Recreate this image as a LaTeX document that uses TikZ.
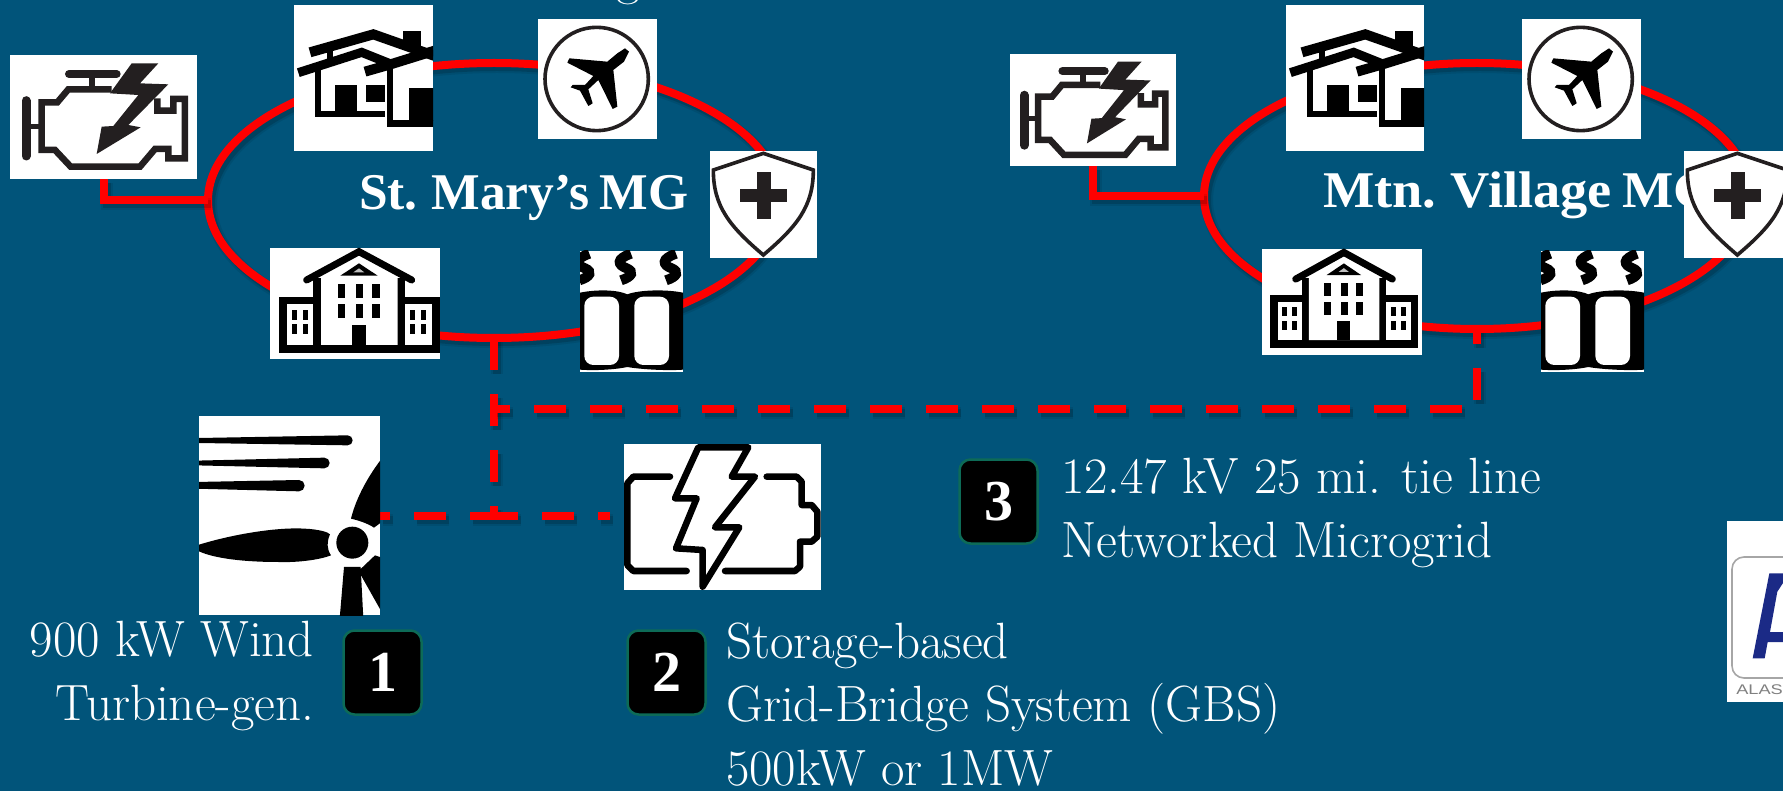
\documentclass[tikz,border=0pt]{standalone}
\usepackage{fontspec}
\usetikzlibrary{shapes.geometric}
\newfontfamily\boldserif[WordSpace=.75]{Liberation Serif}
\newfontfamily\logofont{Liberation Sans}
\definecolor{bg}{HTML}{01547A}
\definecolor{ink}{HTML}{231F20}
\definecolor{badgeedge}{HTML}{0D6B57}
\definecolor{logoblue}{HTML}{1B2A86}
\tikzset{
  softshadow/.style={
    preaction={draw=black,draw opacity=.08,line width=12pt,transform canvas={shift={(3pt,-4pt)}}},
    preaction={draw=black,draw opacity=.15,line width=8pt,transform canvas={shift={(3pt,-4pt)}}}},
  dashshadow/.style={
    preaction={draw=black,draw opacity=.08,line width=12pt,dash pattern=on 32pt off 24pt,dash phase=#1,transform canvas={shift={(3pt,-4pt)}}},
    preaction={draw=black,draw opacity=.15,line width=8pt,dash pattern=on 32pt off 24pt,dash phase=#1,transform canvas={shift={(3pt,-4pt)}}}},
  ring/.style={ellipse,draw=red,line width=8pt,inner sep=0pt,outer sep=0pt,softshadow},
  redline/.style={draw=red,line width=8pt,softshadow},
  tiedash/.style={draw=red,line width=8pt,dashshadow=#1,dash pattern=on 32pt off 24pt,dash phase=#1},
  iconbox/.style={fill=white,draw=none,inner sep=0pt,outer sep=0pt,rectangle},
  badge/.style={rectangle,fill=black,draw=badgeedge,line width=2.5pt,rounded corners=11pt,
    minimum width=78pt,minimum height=84pt,inner sep=0pt,outer sep=0pt,text=white,
    font=\boldserif\bfseries\fontsize{58}{58}\selectfont},
  lbl/.style={text=white,inner sep=0pt,outer sep=0pt,font=\fontsize{51}{63.5}\selectfont},
  title/.style={text=white,inner sep=0pt,outer sep=0pt,font=\boldserif\bfseries\fontsize{51.5}{51.5}\selectfont},
}
% ---- icons: coordinates in zoomed (3x) units
\newcommand\placeicon[4]{%
  \begin{scope}
    \clip (#1.south west) rectangle (#1.north east);
    \begin{scope}[shift={(#1.north west)},xscale=#2/3,yscale=#3/3]#4\end{scope}
  \end{scope}}
\newcommand\engineicon{\begin{scope}[shift={(-30,-15)},ink,line cap=butt,line join=miter]
  \draw[line width=8pt,line cap=round] (207,72)--(350,72);
  \draw[line width=6pt] (275,72)--(275,118);
  \draw[line width=6.5pt] (335,118)--(205,118)--(172,157)--(125,157)--(125,300)--(165,300)--(212,350)--(420,350)--(465,297)--(505,297)--(505,325)--(555,325)--(555,147)--(520,147)--(520,182)--(472,182)--(472,145);
  \draw[line width=9pt,line cap=round] (78,152)--(78,318);
  \draw[line width=5pt] (78,230)--(125,230);
  \fill (395,40)--(475,40)--(420,100)--(505,103)--(385,225)--(422,232)--(290,312)--(305,230)--(340,228)--(415,135)--(330,130)--cycle;
\end{scope}}
\newcommand\houseicon{\begin{scope}[shift={(-12,-15)},black,line cap=butt,line join=miter]
  \fill (340,92) rectangle (392,145);
  \draw[line width=10pt] (60,157)--(250,103)--(440,170);
  \draw[line width=10pt] (225,215)--(305,192)--(440,150);
  \draw[line width=9pt] (25,218)--(215,157)--(310,195);
  \draw[line width=6pt] (120,150)--(120,190);
  \draw[line width=6pt] (85,210)--(85,342)--(285,342);
  \draw[line width=6.5pt] (300,190)--(300,370)--(440,370);
  \fill (135,255) rectangle (200,342);
  \fill (228,255) rectangle (285,306);
  \fill (358,265) rectangle (440,362);
\end{scope}}
\newcommand\planeicon{\begin{scope}[shift={(-24,-57)},black]
  \draw[line width=3.6pt,ink] (200,237) ellipse [x radius=155,y radius=155];
  \fill (285,145)--(297,155)--(282,185)--(250,210)--(262,320)--(248,327)--(205,240)--(175,268)--(188,310)--(175,318)--(150,272)--(122,262)--(128,255)--(165,255)--(190,228)--(112,188)--(118,175)--(232,185)--(262,160)--cycle;
\end{scope}}
\newcommand\shieldicon{\begin{scope}[shift={(-540,-453)},ink]
  \draw[line width=3.6pt,line join=miter] (700,460)--(850,510) .. controls (850,620) and (800,680) .. (700,765) .. controls (600,680) and (550,620) .. (550,510)--cycle;
  \fill (680,515) rectangle (722,658);
  \fill (630,567) rectangle (772,607);
\end{scope}}
\newcommand\buildingicon{\begin{scope}[shift={(-15,-9)},black,line join=miter]
  \fill (42,155) rectangle (525,324);
  \fill[white] (66,178) rectangle (145,300);
  \fill[white] (420,178) rectangle (500,300);
  \fill (145,100) rectangle (420,324);
  \draw[line width=7pt,line cap=round] (125,105)--(282,20)--(440,105);
  \fill[white] (168,98)--(282,35)--(398,98)--(398,300)--(168,300)--cycle;
  \fill (226,92)--(282,55)--(338,92)--cycle;
  \fill[white!75!black] (265,82)--(282,70)--(298,82)--cycle;
  \foreach \cx in {218,272,322}{\foreach \cy in {118,178}{\fill (\cx,\cy) rectangle ++(22,42);}}
  \fill (260,240) rectangle (303,300);
  \foreach \cx in {80,114,435,468}{\foreach \cy in {195,238}{\fill (\cx,\cy) rectangle ++(16,29);}}
\end{scope}}
\newcommand\heaticon{\begin{scope}[shift={(-945,-18)},black]
  \foreach \dx in {-125,0,135}{
    \draw[line width=10pt,shift={(\dx,0)}] (1098,26) .. controls (1052,42) and (1058,60) .. (1085,70) .. controls (1108,80) and (1102,95) .. (1068,106);}
  \fill (945,143) .. controls (1000,132) and (1060,135) .. (1087,148) .. controls (1120,135) and (1200,132) .. (1254,143) -- (1254,374) .. controls (1200,378) and (1120,372) .. (1087,366) .. controls (1060,372) and (1000,378) .. (945,374) -- cycle;
  \fill[white,rounded corners=9pt] (958,155) rectangle (1062,360);
  \fill[white,rounded corners=9pt] (1108,155) rectangle (1212,360);
\end{scope}}
\newcommand\windicon{\begin{scope}[shift={(-12,-12)},black]
  \fill (12,78)--(458,70) arc[start angle=-90,end angle=90,radius=15]--(12,93)--cycle;
  \fill (0,146)--(388,137) arc[start angle=-90,end angle=90,radius=16]--(0,160)--cycle;
  \fill (0,210)--(312,204) arc[start angle=-90,end angle=90,radius=17]--(0,230)--cycle;
  \fill (12,398) .. controls (120,365) and (250,345) .. (330,350) .. controls (370,352) and (400,360) .. (405,367) .. controls (395,390) and (395,410) .. (408,430) .. controls (370,445) and (300,452) .. (250,450) .. controls (150,450) and (60,440) .. (12,418) -- cycle;
  \fill (472,392) circle [radius=48];
  \fill (560,140) .. controls (510,205) and (480,270) .. (468,320) .. controls (490,325) and (520,335) .. (537,347) -- (560,330) -- cycle;
  \fill (447,465)--(497,465)--(505,620)--(434,620)--cycle;
  \fill (498,470)--(540,430)--(560,437)--(560,600)--(498,490)--cycle;
\end{scope}}
\newcommand\storageicon{\begin{scope}[shift={(-12,-12)},black,line width=6.5pt,line cap=round,line join=round]
  \draw (150,110)--(40,110)--(22,130)--(22,375)--(40,393)--(200,393);
  \draw (440,110)--(530,110)--(545,125)--(545,195)--(575,195)--(592,215)--(592,290)--(575,305)--(540,305)--(540,380)--(525,393)--(315,393);
  \draw (235,22)--(385,22)--(335,110)--(405,110)--(285,262)--(358,262)--(248,440)--(248,330)--(168,325)--(230,175)--(165,175)--cycle;
\end{scope}}
\begin{document}
\begin{tikzpicture}[x=1pt,y=-1pt]
\path[use as bounding box,fill=bg] (0,0) rectangle (1783,791);
\clip (0,0) rectangle (1783,791);

% clipped remainder of the heading
\node[lbl,anchor=base west] (head) at (616,-5) {g\kern 38pt\raisebox{4pt}{,}};

% microgrid rings
\node[ring,minimum width=572pt,minimum height=275pt] (ringa) at (494,200.5) {};
\node[ring,minimum width=546pt,minimum height=266pt] (ringb) at (1477,196) {};

% icon boxes
\node[iconbox,minimum width=187pt,minimum height=124pt] (enga) at (103.5,117) {};
\node[iconbox,minimum width=139pt,minimum height=146pt] (housea) at (363.5,78) {};
\node[iconbox,minimum width=119pt,minimum height=120pt] (planea) at (597.5,79) {};
\node[iconbox,minimum width=107pt,minimum height=107pt] (shielda) at (763.5,204.5) {};
\node[iconbox,minimum width=170pt,minimum height=111pt] (builda) at (355,303.5) {};
\node[iconbox,minimum width=103pt,minimum height=121pt] (heata) at (631.5,311.5) {};
\node[iconbox,minimum width=166pt,minimum height=112pt] (engb) at (1093,110) {};
\node[iconbox,minimum width=138pt,minimum height=146pt] (houseb) at (1355,78) {};
\node[iconbox,minimum width=119pt,minimum height=120pt] (planeb) at (1581.5,79) {};
\node[iconbox,minimum width=107pt,minimum height=107pt] (shieldb) at (1737.5,204.5) {};
\node[iconbox,minimum width=160pt,minimum height=106pt] (buildb) at (1342,302) {};
\node[iconbox,minimum width=103pt,minimum height=121pt] (heatb) at (1592.5,311.5) {};
\node[iconbox,minimum width=181pt,minimum height=199pt] (wind) at (289.5,515.5) {};
\node[iconbox,minimum width=197pt,minimum height=146pt] (store) at (722.5,517) {};

% connectors
\coordinate (hub) at (ringa.south |- 0,516);
\coordinate (tieend) at (ringa.south |- 0,409);
\coordinate (storeend) at (610,516);
\path[redline] (enga.south) |- (ringa.west);
\path[redline] (engb.south) |- (ringb.west);
\path[tiedash=0pt] (ringa.south) -- (hub);
\path[tiedash=8pt] (hub) -- (hub -| wind.east);
\path[tiedash=8pt] (hub) -- (storeend);
\path[tiedash=17pt] (ringb.south) |- (tieend);

% titles (the right-hand one runs under the shield box)
\node[title,anchor=base west] (titlea) at (359,210) {St. Mary’s MG};
\node[title,anchor=base west,xscale=1.055,transform shape] (titleb) at (1323,208) {Mtn. Village MG};

% white boxes over the rings and the titles
\foreach \nm in {enga,housea,planea,shielda,builda,heata,engb,houseb,planeb,shieldb,buildb,heatb,wind,store}{
  \fill[white] (\nm.south west) rectangle (\nm.north east);
}
\placeicon{enga}{1}{1}{\engineicon}
\placeicon{housea}{1}{1}{\houseicon}
\placeicon{planea}{1}{1}{\planeicon}
\placeicon{shielda}{1}{1}{\shieldicon}
\placeicon{builda}{1}{1}{\buildingicon}
\placeicon{heata}{1}{1}{\heaticon}
\placeicon{engb}{.888}{.903}{\engineicon}
\placeicon{houseb}{1}{1}{\houseicon}
\placeicon{planeb}{1}{1}{\planeicon}
\placeicon{shieldb}{1}{1}{\shieldicon}
\placeicon{buildb}{.92}{.94}{\buildingicon}
\placeicon{heatb}{1}{1}{\heaticon}
\placeicon{wind}{1}{1}{\windicon}
\placeicon{store}{1}{1}{\storageicon}

% numbered badges
\node[badge] (ba) at (382.5,672.5) {1};
\node[badge] (bb) at (666.5,672.5) {2};
\node[badge] (bc) at (998.5,501.5) {3};

% labels
\node[lbl,align=right,anchor=base east] (la) at (314,720) {900 kW Wind\\Turbine-gen.};
\node[lbl,align=left,anchor=base west] (lb) at (726,785) {Storage-based\\Grid-Bridge System (GBS)\\500kW or 1MW};
\node[lbl,align=left,anchor=base west] (lc) at (1061,557) {12.47 kV 25 mi. tie line\\Networked Microgrid};

% cropped logo
\node[iconbox,minimum width=56pt,minimum height=181pt] (logo) at (1755,611.5) {};
\begin{scope}
  \clip (logo.south west) rectangle (logo.north east);
  \draw[gray!70,line width=1.6pt,rounded corners=12pt] (1732,557) rectangle (1800,678);
  \begin{scope}[shift={(1720,515)},xscale=1/3,yscale=1/3]
    \fill[logoblue] (98,430)--(134,430)--(143,381)--(195,381)--(195,351)--(150,351)--(172,230)--(195,195)--(195,175)--(148,175)--cycle;
  \end{scope}
  \node[anchor=base west,inner sep=0pt,text=gray,xscale=1.3,transform shape,font=\logofont\fontsize{14}{14}\selectfont] (logotext) at (1736,694) {ALASKA};
\end{scope}
\end{tikzpicture}
\end{document}
